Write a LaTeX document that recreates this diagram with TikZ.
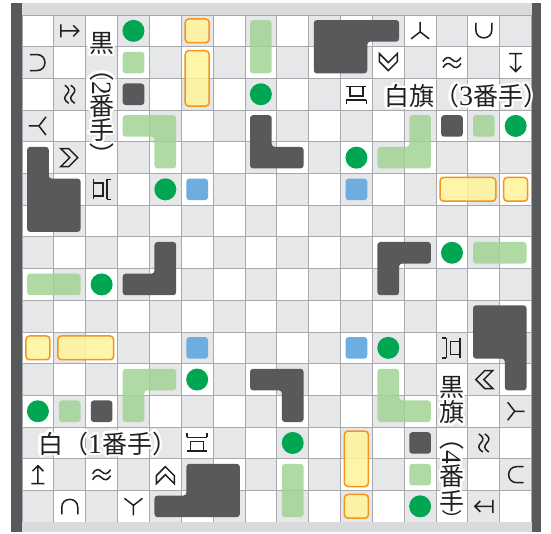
\documentclass[tikz,border=0pt]{standalone}
\usepackage{fontspec}
\newfontfamily\cjk{Noto Sans CJK JP}
\newfontfamily\dig{Liberation Serif}
\definecolor{dk}{HTML}{58595B}
\definecolor{cellg}{HTML}{E6E7E8}
\definecolor{gline}{HTML}{A7A9AC}
\definecolor{band}{HTML}{D9DADB}
\definecolor{lgreen}{HTML}{A3D495}
\definecolor{cgreen}{HTML}{00A651}
\definecolor{blu}{HTML}{6EADDF}
\definecolor{yel}{HTML}{FFF49A}
\definecolor{org}{HTML}{F7941D}
\definecolor{ink}{HTML}{231F20}
\tikzset{
 gridline/.style={draw=gline,line width=0.9pt},
 dkpiece/.style={fill=dk,rounded corners=3pt},
 lgpiece/.style={fill=lgreen,fill opacity=0.85,rounded corners=3pt},
 ylpiece/.style={fill=yel,fill opacity=0.85,draw=org,line width=1.5pt,rounded corners=3.5pt},
 blpiece/.style={fill=blu,rounded corners=3pt},
 stone/.style={fill=cgreen},
 symline/.style={draw=ink,line width=1.5pt,line join=miter,line cap=butt},
 lbl/.style={font={\cjk\fontsize{25}{25}\selectfont},text=ink,inner sep=0pt},
}
\def\dd{0.16}
\def\dy{0.125}
\newcommand\cellbox[5]{\path[#1] ({#2+\dd},{#3+\dd}) rectangle ({#4+1-\dd},{#5+1-\dd});}
\newcommand\ybox[4]{\path[ylpiece] ({#1+\dy},{#2+\dy}) rectangle ({#3+1-\dy},{#4+1-\dy});}
\newcommand\putsym[4]{\begin{scope}[shift={(#1+0.5,#2+0.5)},x=1pt,y=-1pt,rotate=#3]#4\end{scope}}
\newcommand\SArrow{\path[symline] (-9,-6.5)--(-9,6.5) (-9,0)--(9,0) (3.5,-5.5)--(9,0)--(3.5,5.5);}
\newcommand\SCup{\path[symline] (-8,-8) -- (-8,-1) .. controls (-8,9.67) and (8,9.67) .. (8,-1) -- (8,-8);}
\newcommand\SChev{\path[symline] (-9,-9)--(0,0)--(9,-9)--(9,-1)--(0,8)--(-9,-1)--cycle;}
\newcommand\SWave{\path[symline] (-9,-1) .. controls (-6,-6) and (-3,-6) .. (0,-3) .. controls (3,0) and (6,0) .. (9,-5) (-9,5) .. controls (-6,0) and (-3,0) .. (0,3) .. controls (3,6) and (6,6) .. (9,1);}
\newcommand\SY{\path[symline] (0,-9)--(0,1) (-9,8)--(0,1)--(9,8);}
\newcommand\STower{\path[symline] (-10,-8)--(10,-8) (-6.5,-8) rectangle (6.5,1.5) (-10,5.5)--(10,5.5) (-10,5.5)--(-10,9.5) (10,5.5)--(10,9.5);}
\newcommand\lbltext[4]{%
 \foreach \a in {0,22.5,...,337.5}{\node[lbl,#3,text=white,xshift={2.4pt*cos(\a)},yshift={2.4pt*sin(\a)}] at #2 {#4};}
 \node[lbl,#3] (#1) at #2 {#4};}
\newcommand\Dg[1]{{\dig\fontsize{28}{28}\selectfont #1}}
\newcommand\RP{\makebox[12.5pt][l]{）}}
\begin{document}
\begin{tikzpicture}[x=31.85pt,y=-31.7pt]
\useasboundingbox[fill=white] (-0.69074,-0.47319) rectangle (16.6091,16.3407);
% cells
\fill[white] (0,0) rectangle (16,16);
\foreach \c in {0,...,15}{\foreach \r in {0,...,15}{%
  \pgfmathtruncatemacro\pty{mod(\c+\r,2)}%
  \ifnum\pty=1 \fill[cellg] (\c,\r) rectangle ++(1,1); \fi}}
\foreach \i in {0,...,16}{\draw[gridline] (\i,0) -- (\i,16); \draw[gridline] (0,\i) -- (16,\i);}
% frame
\fill[band] (-0.3454,-0.3785) rectangle (16.2951,0);
\fill[band] (-0.3454,16) rectangle (16.2951,16.2934);
\fill[dk] (-0.3454,-0.3785) rectangle (0,16.2934);
\fill[dk] (16,-0.3785) rectangle (16.2951,16.2934);
% dark pieces
\cellbox{dkpiece}{3}{2}{3}{2}
\cellbox{dkpiece}{13}{3}{13}{3}
\cellbox{dkpiece}{2}{12}{2}{12}
\cellbox{dkpiece}{12}{13}{12}{13}
\path[dkpiece] ({9+\dd},{\dd}) -- ({12-\dd},{\dd}) -- ({12-\dd},{1-\dd}) -- ({11-\dd},{1-\dd}) -- ({11-\dd},{2-\dd}) -- ({9+\dd},{2-\dd}) -- cycle;
\path[dkpiece] ({14+\dd},{9+\dd}) -- ({16-\dd},{9+\dd}) -- ({16-\dd},{12-\dd}) -- ({15+\dd},{12-\dd}) -- ({15+\dd},{11-\dd}) -- ({14+\dd},{11-\dd}) -- cycle;
\path[dkpiece] ({5+\dd},{14+\dd}) -- ({7-\dd},{14+\dd}) -- ({7-\dd},{16-\dd}) -- ({4+\dd},{16-\dd}) -- ({4+\dd},{15+\dd}) -- ({5+\dd},{15+\dd}) -- cycle;
\path[dkpiece] ({\dd},{4+\dd}) -- ({1-\dd},{4+\dd}) -- ({1-\dd},{5+\dd}) -- ({2-\dd},{5+\dd}) -- ({2-\dd},{7-\dd}) -- ({\dd},{7-\dd}) -- cycle;
\path[dkpiece] ({7+\dd},{3+\dd}) -- ({8-\dd},{3+\dd}) -- ({8-\dd},{4+\dd}) -- ({9-\dd},{4+\dd}) -- ({9-\dd},{5-\dd}) -- ({7+\dd},{5-\dd}) -- cycle;
\path[dkpiece] ({11+\dd},{7+\dd}) -- ({13-\dd},{7+\dd}) -- ({13-\dd},{8-\dd}) -- ({12-\dd},{8-\dd}) -- ({12-\dd},{9-\dd}) -- ({11+\dd},{9-\dd}) -- cycle;
\path[dkpiece] ({7+\dd},{11+\dd}) -- ({9-\dd},{11+\dd}) -- ({9-\dd},{13-\dd}) -- ({8+\dd},{13-\dd}) -- ({8+\dd},{12-\dd}) -- ({7+\dd},{12-\dd}) -- cycle;
\path[dkpiece] ({4+\dd},{7+\dd}) -- ({5-\dd},{7+\dd}) -- ({5-\dd},{9-\dd}) -- ({3+\dd},{9-\dd}) -- ({3+\dd},{8+\dd}) -- ({4+\dd},{8+\dd}) -- cycle;
% light green pieces
\cellbox{lgpiece}{3}{1}{3}{1}
\cellbox{lgpiece}{14}{3}{14}{3}
\cellbox{lgpiece}{1}{12}{1}{12}
\cellbox{lgpiece}{12}{14}{12}{14}
\cellbox{lgpiece}{7}{0}{7}{1}
\cellbox{lgpiece}{14}{7}{15}{7}
\cellbox{lgpiece}{8}{14}{8}{15}
\cellbox{lgpiece}{0}{8}{1}{8}
\path[lgpiece] ({3+\dd},{3+\dd}) -- ({5-\dd},{3+\dd}) -- ({5-\dd},{5-\dd}) -- ({4+\dd},{5-\dd}) -- ({4+\dd},{4-\dd}) -- ({3+\dd},{4-\dd}) -- cycle;
\path[lgpiece] ({12+\dd},{3+\dd}) -- ({13-\dd},{3+\dd}) -- ({13-\dd},{5-\dd}) -- ({11+\dd},{5-\dd}) -- ({11+\dd},{4+\dd}) -- ({12+\dd},{4+\dd}) -- cycle;
\path[lgpiece] ({11+\dd},{11+\dd}) -- ({12-\dd},{11+\dd}) -- ({12-\dd},{12+\dd}) -- ({13-\dd},{12+\dd}) -- ({13-\dd},{13-\dd}) -- ({11+\dd},{13-\dd}) -- cycle;
\path[lgpiece] ({3+\dd},{11+\dd}) -- ({5-\dd},{11+\dd}) -- ({5-\dd},{12-\dd}) -- ({4-\dd},{12-\dd}) -- ({4-\dd},{13-\dd}) -- ({3+\dd},{13-\dd}) -- cycle;
% blue
\cellbox{blpiece}{5}{5}{5}{5}
\cellbox{blpiece}{10}{5}{10}{5}
\cellbox{blpiece}{5}{10}{5}{10}
\cellbox{blpiece}{10}{10}{10}{10}
% yellow
\ybox{5}{0}{5}{0}
\ybox{15}{5}{15}{5}
\ybox{0}{10}{0}{10}
\ybox{10}{15}{10}{15}
\ybox{5}{1}{5}{2}
\ybox{13}{5}{14}{5}
\ybox{1}{10}{2}{10}
\ybox{10}{13}{10}{14}
% green stones
\foreach \c/\r in {3/0,7/2,15/3,10/4,4/5,13/7,2/8,11/10,5/11,0/12,8/13,12/15}
  \fill[stone] (\c+0.5,\r+0.5) circle (11pt);
% symbols
\putsym{1}{0}{0}{\SArrow}
\putsym{15}{1}{-90}{\SArrow}
\putsym{14}{15}{180}{\SArrow}
\putsym{0}{14}{90}{\SArrow}
\putsym{14}{0}{0}{\SCup}
\putsym{15}{14}{-90}{\SCup}
\putsym{1}{15}{180}{\SCup}
\putsym{0}{1}{90}{\SCup}
\putsym{11}{1}{0}{\SChev}
\putsym{14}{11}{-90}{\SChev}
\putsym{4}{14}{180}{\SChev}
\putsym{1}{4}{90}{\SChev}
\putsym{13}{1}{0}{\SWave}
\putsym{14}{13}{-90}{\SWave}
\putsym{2}{14}{180}{\SWave}
\putsym{1}{2}{90}{\SWave}
\putsym{12}{0}{0}{\SY}
\putsym{15}{12}{-90}{\SY}
\putsym{3}{15}{180}{\SY}
\putsym{0}{3}{90}{\SY}
\putsym{10}{2}{0}{\STower}
\putsym{13}{10}{-90}{\STower}
\putsym{5}{13}{180}{\STower}
\putsym{2}{5}{90}{\STower}
% labels
\begin{scope}[x=1pt,y=-1pt,shift={(-22,-15)}]
\lbltext{a1}{(101.7,43.5)}{}{黒}
\lbltext{a2}{(101.7,75.5)}{rotate=-90}{（\Dg{2}}
\lbltext{a3}{(101.7,106.5)}{}{番}
\lbltext{a4}{(101.7,130)}{}{手}
\lbltext{a5}{(101.7,149)}{rotate=-90}{\RP}
\lbltext{b1}{(452,387.5)}{}{黒}
\lbltext{b2}{(452,412.5)}{}{旗}
\lbltext{b3}{(452,444.5)}{rotate=-90}{（\Dg{4}}
\lbltext{b4}{(452,476.5)}{}{番}
\lbltext{b5}{(452,501.5)}{}{手}
\lbltext{b6}{(452,509.5)}{rotate=-90,anchor=west}{{\fontsize{20}{20}\selectfont ）}}
\lbltext{w3}{(384,96)}{anchor=west}{白旗（\Dg{3}番手\RP}
\lbltext{w1}{(38,443.5)}{anchor=west}{白（\Dg{1}番手\RP}
\end{scope}
\end{tikzpicture}
\end{document}
